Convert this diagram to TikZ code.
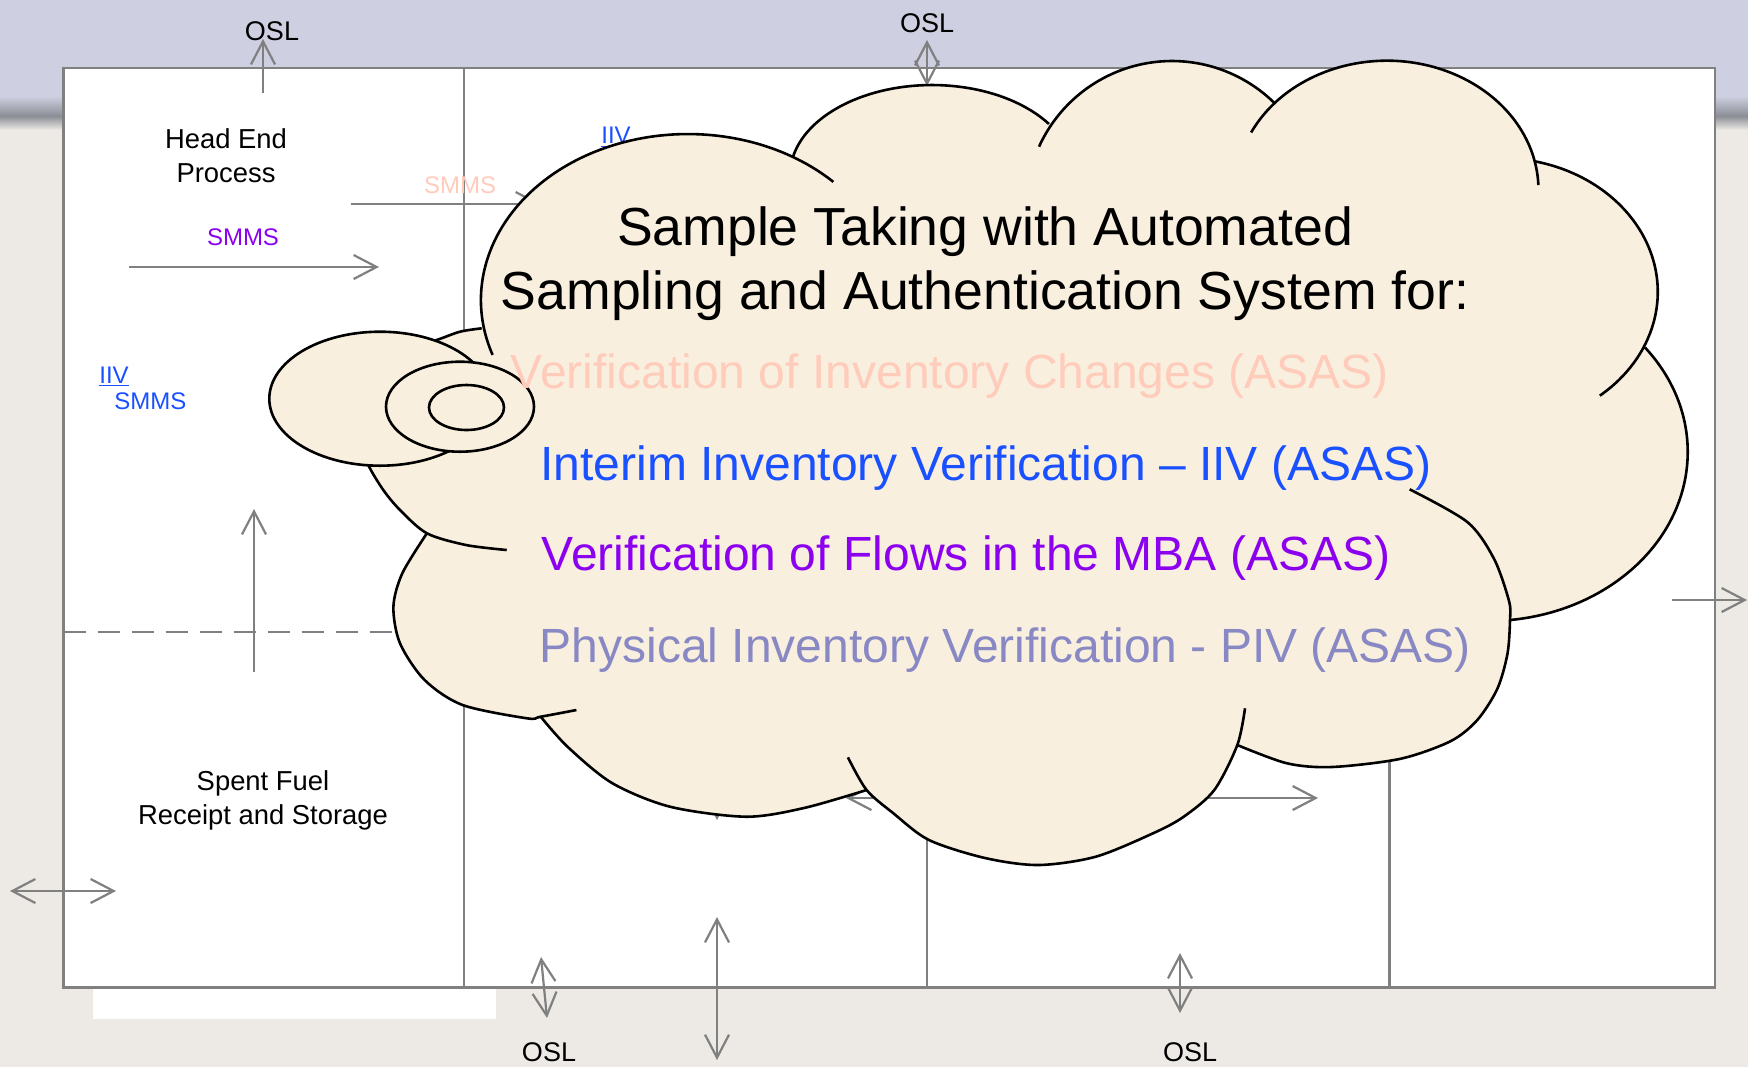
\documentclass[tikz,border=0pt]{standalone}
\usepackage{fontspec}
\setmainfont{Liberation Sans}
\usetikzlibrary{arrows.meta}

\definecolor{linegray}{RGB}{128,128,128}
\definecolor{cloudfill}{RGB}{249,239,222}
\definecolor{bgtop}{RGB}{206,208,226}
\definecolor{bgshadow}{RGB}{140,142,150}
\definecolor{bglight}{RGB}{237,234,230}
\definecolor{salmontext}{RGB}{255,204,188}
\definecolor{bluetext}{RGB}{25,80,255}
\definecolor{purpletext}{RGB}{140,0,240}
\definecolor{slatetext}{RGB}{136,136,196}

\tikzset{
  flowline/.style={draw=linegray, line width=1.1pt},
  wall/.style={draw=linegray, line width=1.2pt},
  cloudline/.style={draw=black, line width=1.3pt},
  bubble/.style={fill=cloudfill, draw=black, line width=1.3pt},
  smalllabel/.style={inner sep=0pt, font=\fontsize{12}{14}\selectfont},
  osllabel/.style={inner sep=0pt, anchor=base, font=\fontsize{13.5}{16}\selectfont},
  arealabel/.style={inner sep=0pt, anchor=base},
  itemtext/.style={inner sep=0pt, anchor=base west, font=\fontsize{24}{28}\selectfont},
}

\begin{document}
\begin{tikzpicture}[x=0.5pt, y=-0.5pt, >={Straight Barb[length=11.5pt,width=12pt]}]
  \useasboundingbox (0,0) rectangle (1748,1067);
  % background
  \fill[bglight] (0,0) rectangle (1748,1067);
  \fill[bgtop] (0,0) rectangle (1748,96);
  \shade[top color=bgtop, bottom color=bgshadow] (0,96) rectangle (1748,116);
  \shade[top color=bgshadow, bottom color=bglight] (0,116) rectangle (1748,130);

  % plant frame and cells
  \filldraw[fill=white, draw=linegray, line width=1.3pt] (63.5,68) rectangle (1715,987.5);
  \fill[white] (93,988.5) rectangle (496,1019);
  \foreach \x in {464,927,1389.5}
    \draw[wall] (\x,68) -- (\x,987.5);
  \draw[wall, dash pattern=on 11pt off 6pt] (63.5,632) -- (464,632);

  % arrow ends
  \coordinate (hepA) at (263,93);   \coordinate (hepB) at (263,39);
  \coordinate (topA) at (927,86);   \coordinate (topB) at (927,40);
  \coordinate (flowA) at (129,267); \coordinate (flowB) at (379,267);
  \coordinate (chgA) at (351,204);  \coordinate (chgB) at (541,204);
  \coordinate (upA) at (254,672);   \coordinate (upB) at (254,509);
  \coordinate (sideA) at (10,891);  \coordinate (sideB) at (116,891);
  \coordinate (botA) at (541,957);  \coordinate (botB) at (547,1018);
  \coordinate (longA) at (717,917); \coordinate (longB) at (717,1060);
  \coordinate (dropA) at (717,700); \coordinate (dropB) at (717,820);
  \coordinate (brA) at (1180,953);  \coordinate (brB) at (1180,1013);
  \coordinate (midA) at (846,798);  \coordinate (midB) at (1318,798);
  \coordinate (outA) at (1672,600); \coordinate (outB) at (1747,600);

  \draw[flowline,->] (hepA) -- (hepB);
  \draw[flowline,<->] (topA) -- (topB);
  \draw[flowline,->] (flowA) -- (flowB);
  \draw[flowline,->] (chgA) -- (chgB);
  \draw[flowline,->] (upA) -- (upB);
  \draw[flowline,<->] (sideA) -- (sideB);
  \draw[flowline,<->] (botA) -- (botB);
  \draw[flowline,<->] (longA) -- (longB);
  \draw[flowline,->] (dropA) -- (dropB);
  \draw[flowline,<->] (brA) -- (brB);
  \draw[flowline,<->] (midA) -- (midB);
  \draw[flowline,->] (outA) -- (outB);

  % labels on the plant
  \node[osllabel] (osltl) at (272,40.7) {OSL};
  \node[osllabel] (osltm) at (927,32.3) {OSL};
  \node[osllabel] (oslbl) at (549,1061.7) {OSL};
  \node[osllabel] (oslbr) at (1190,1061.7) {OSL};
  \node[arealabel, font=\fontsize{13.7}{16}\selectfont] (headend) at (226,148) {Head End};
  \node[arealabel, font=\fontsize{13.7}{16}\selectfont] (headproc) at (226,182) {Process};
  \node[arealabel, font=\fontsize{13.7}{16}\selectfont] (spentfuel) at (263,790.6) {Spent Fuel};
  \node[arealabel, font=\fontsize{13.7}{16}\selectfont] (spentstore) at (263,824.7) {Receipt and Storage};
  \node[smalllabel, anchor=base, text=purpletext] (smmsflow) at (243,245) {SMMS};
  \node[smalllabel, anchor=base, text=salmontext] (smmschg) at (460,193.3) {SMMS};
  \node[smalllabel, anchor=base, text=bluetext] (iivtop) at (616,143.3) {\underline{IIV}};
  \node[smalllabel, anchor=base west, text=bluetext] (iivleft) at (99,383) {\underline{IIV}};
  \node[smalllabel, anchor=base west, text=bluetext] (smmsleft) at (114,409) {SMMS};

  % cloud body
  \fill[cloudfill] (484,328.3) arc[start angle=170.2, end angle=300.5, x radius=207, y radius=166]
    -- (792.9,157.1) arc[start angle=191.5, end angle=325.4, x radius=142, y radius=90]
    -- (1052.1,123.7) arc[start angle=214.8, end angle=314.7, radius=146]
    -- (1274.4,103.3) arc[start angle=222.1, end angle=347.4, x radius=151.6, y radius=129.3]
    -- (1535.8,161.5) arc[start angle=283.2, end angle=384.2, x radius=158, y radius=134]
    -- (1645,347.5) arc[start angle=321.8, end angle=443.7, x radius=199.4, y radius=169]
    -- plot[smooth] coordinates {(1510,620) (1507.5,653.5) (1497.4,688.6) (1477.3,720) (1450.5,741.2) (1400.3,758.8) (1332,767) (1287,763.3) (1237.3,745)}
    -- plot[smooth] coordinates {(1237.3,745) (1214.3,790) (1183.7,816.7) (1153,833.3) (1095.7,856.7) (1038.3,865) (985,858) (929,840) (893.4,813.3) (866.6,790)}
    -- plot[smooth] coordinates {(866.6,790) (804,808) (746,816.7) (670,806.7) (612,783) (567.5,746.7) (540.7,716.7)}
    -- plot[smooth] coordinates {(540.7,716.7) (527,718.3) (462.6,705) (424.6,680) (400,643.3) (393.4,606.7) (402.3,573.3) (426.9,533.3)}
    -- plot[smooth] coordinates {(426.9,533.3) (400,510) (383.3,490) (368.3,465) (360,440) (365,390) (400,352) (436.7,340) (460,331.7) (481.7,328.3)}
    -- cycle;
  % cloud outline, lobe by lobe
  \draw[cloudline] (492.6,354.9) arc[start angle=160.7, end angle=314.6, x radius=207, y radius=166];
  \draw[cloudline] (792.9,157.1) arc[start angle=191.5, end angle=325.4, x radius=142, y radius=90];
  \draw[cloudline] (1039,146.7) arc[start angle=204.4, end angle=314.7, radius=146];
  \draw[cloudline] (1251.1,132.5) arc[start angle=206.4, end angle=357.8, x radius=151.6, y radius=129.3];
  \draw[cloudline] (1535.8,161.5) arc[start angle=283.2, end angle=410.7, x radius=158, y radius=134];
  \draw[cloudline] (1645,347.5) arc[start angle=321.8, end angle=443.7, x radius=199.4, y radius=169];
  \draw[cloudline] plot[smooth] coordinates {(1409.6,489.3) (1467.3,522) (1494,558.8) (1509,601) (1510,620) (1507.5,653.5) (1497.4,688.6) (1477.3,720) (1450.5,741.2) (1400.3,758.8) (1332,767) (1287,763.3) (1237.3,745)};
  \draw[cloudline] plot[smooth] coordinates {(1245,708.3) (1237.3,745) (1214.3,790) (1183.7,816.7) (1153,833.3) (1095.7,856.7) (1038.3,865) (985,858) (929,840) (893.4,813.3) (866.6,790) (847.9,757.3)};
  \draw[cloudline] plot[smooth] coordinates {(866.6,790) (804,808) (746,816.7) (670,806.7) (612,783) (567.5,746.7) (540.7,716.7)};
  \draw[cloudline] plot[smooth] coordinates {(576.4,710) (540.7,716.7) (527,718.3) (462.6,705) (424.6,680) (400,643.3) (393.4,606.7) (402.3,573.3) (426.9,533.3)};
  \draw[cloudline] plot[smooth] coordinates {(506.7,550) (466,545) (426.9,533.3) (400,510) (383.3,490) (368.3,465) (360,440) (365,390) (400,352) (436.7,340) (460,331.7) (481.7,328.3)};

  % thought bubbles
  \filldraw[bubble] (380,398.7) ellipse[x radius=110.7, y radius=67];
  \filldraw[bubble] (460,406.7) ellipse[x radius=74, y radius=45];
  \filldraw[bubble] (466.5,407.5) ellipse[x radius=37.5, y radius=22.5];

  % cloud text
  \node[arealabel, font=\fontsize{26.8}{32}\selectfont] (titleA) at (985,245) {Sample Taking with Automated};
  \node[arealabel, font=\fontsize{26.8}{32}\selectfont] (titleB) at (985,309) {Sampling and Authentication System for:};
  \node[itemtext, text=salmontext] (itemchg) at (510.5,388.3) {Verification of Inventory Changes (ASAS)};
  \node[itemtext, text=bluetext] (itemiiv) at (540,480) {Interim Inventory Verification – IIV (ASAS)};
  \node[itemtext, text=purpletext] (itemflow) at (541.5,570.7) {Verification of Flows in the MBA (ASAS)};
  \node[itemtext, text=slatetext] (itempiv) at (539.5,662.3) {Physical Inventory Verification - PIV (ASAS)};
\end{tikzpicture}
\end{document}
